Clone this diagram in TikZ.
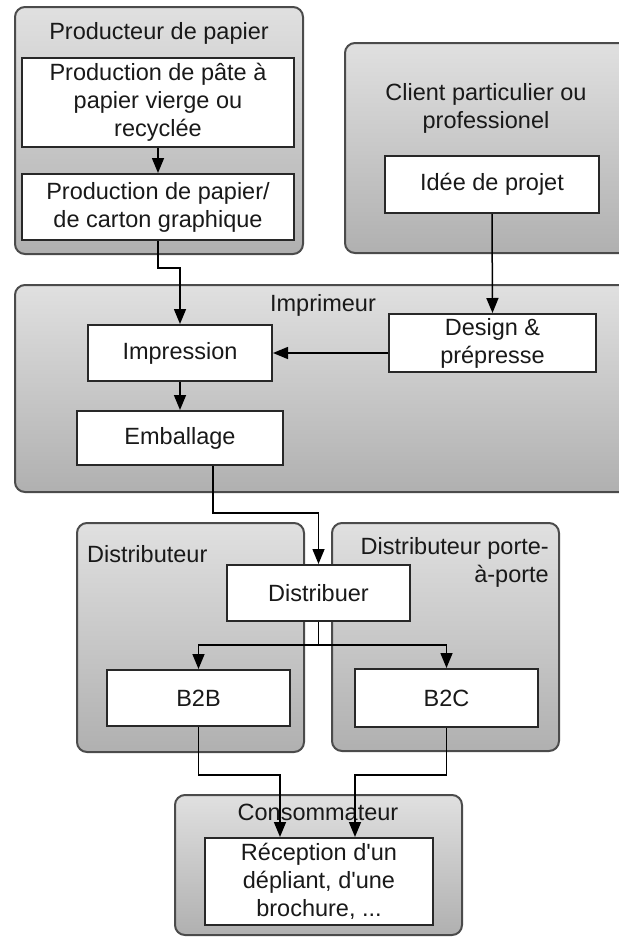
\documentclass[tikz,border=0pt]{standalone}
\usepackage{fontspec}
\setmainfont{Liberation Sans}
\usetikzlibrary{arrows.meta}
\definecolor{ctop}{RGB}{224,224,224}
\definecolor{cbot}{RGB}{176,176,176}
\definecolor{cedge}{RGB}{75,75,75}
\definecolor{bedge}{RGB}{40,40,40}
\definecolor{txt}{RGB}{25,25,25}
\begin{document}
\begin{tikzpicture}[x=1pt,y=-1pt,
  container/.style={draw=cedge, line width=2pt, rounded corners=10pt, top color=ctop, bottom color=cbot, inner sep=0pt},
  stepbox/.style={draw=bedge, line width=2pt, fill=white, align=center, inner sep=0pt, text=txt, font=\fontsize{23.5}{28}\selectfont},
  title/.style={align=center, inner sep=0pt, font=\fontsize{23.5}{28}\selectfont, text=txt},
  arr/.style={draw=black, line width=1.5pt, -{Triangle[length=15pt,width=12pt]}}]
\useasboundingbox (0,0) rectangle (619,938);
\fill[white] (0,0) rectangle (619,938);
\clip (0,0) rectangle (619,938);

% containers
\node[container, minimum width=288pt, minimum height=247pt] (prod) at (159,130.5) {};
\node[container, minimum width=300pt, minimum height=210pt] (client) at (495,148) {};
\node[container, minimum width=630pt, minimum height=207pt] (impr) at (330,388.5) {};
\node[container, minimum width=227pt, minimum height=229pt] (dist) at (190.5,637.5) {};
\node[container, minimum width=227pt, minimum height=228pt] (porte) at (445.5,637) {};
\node[container, minimum width=287pt, minimum height=140pt] (conso) at (318.5,865) {};

% titles
\node[title] (tprod) at (159,33) {Producteur de papier};
\node[title] (tclient) at (486,108) {Client particulier ou\\professionel};
\node[title] (timpr) at (323,305) {Imprimeur};
\node[title, anchor=base west] (tdist) at (87,562) {Distributeur};
\node[title, align=right, anchor=east] (tporte) at (549,562) {Distributeur porte-\\à-porte};
\node[title] (tconso) at (318,812) {Consommateur};

% steps
\node[stepbox, minimum width=272pt, minimum height=89pt] (pate) at (158,102.5) {Production de pâte à\\papier vierge ou\\recyclée};
\node[stepbox, minimum width=272pt, minimum height=66pt] (papier) at (158,207) {Production de papier/\\de carton graphique};
\node[stepbox, minimum width=214pt, minimum height=57pt] (idee) at (492,184.5) {Idée de projet};
\node[stepbox, minimum width=184pt, minimum height=56pt] (impression) at (180,353) {Impression};
\node[stepbox, minimum width=206pt, minimum height=54pt] (emballage) at (180,438) {Emballage};
\node[stepbox, minimum width=207pt, minimum height=58pt] (design) at (492.5,343) {Design \&\\prépresse};
\node[stepbox, minimum width=183pt, minimum height=56pt] (distribuer) at (318.5,593) {Distribuer};
\node[stepbox, minimum width=183pt, minimum height=56pt] (b2b) at (198.5,698) {B2B};
\node[stepbox, minimum width=183pt, minimum height=58pt] (b2c) at (446.5,698) {B2C};
\node[stepbox, minimum width=228pt, minimum height=87pt] (reception) at (319,881.5) {Réception d\textquotesingle un\\dépliant, d\textquotesingle une\\brochure, ...};

% connectors
\draw[arr] (pate.south) -- (papier.north);
\draw[arr] (papier.south) -- ++(0,27) -| (impression.north);
\draw[arr] (idee.south) -- (design.north);
\draw[arr] (design.west |- impression.east) -- (impression.east);
\draw[arr] (impression.south) -- (emballage.north);
\draw[arr] ([xshift=33pt]emballage.south) -- ++(0,47) -| (distribuer.north);
\draw[arr] (distribuer.south) -- ++(0,23) -| (b2b.north);
\draw[arr] (distribuer.south) -- ++(0,23) -| (b2c.north);
\draw[arr] (b2b.south) -- ++(0,48) -| ([xshift=-39pt]reception.north);
\draw[arr] (b2c.south) -- ++(0,47) -| ([xshift=36pt]reception.north);
\end{tikzpicture}
\end{document}
